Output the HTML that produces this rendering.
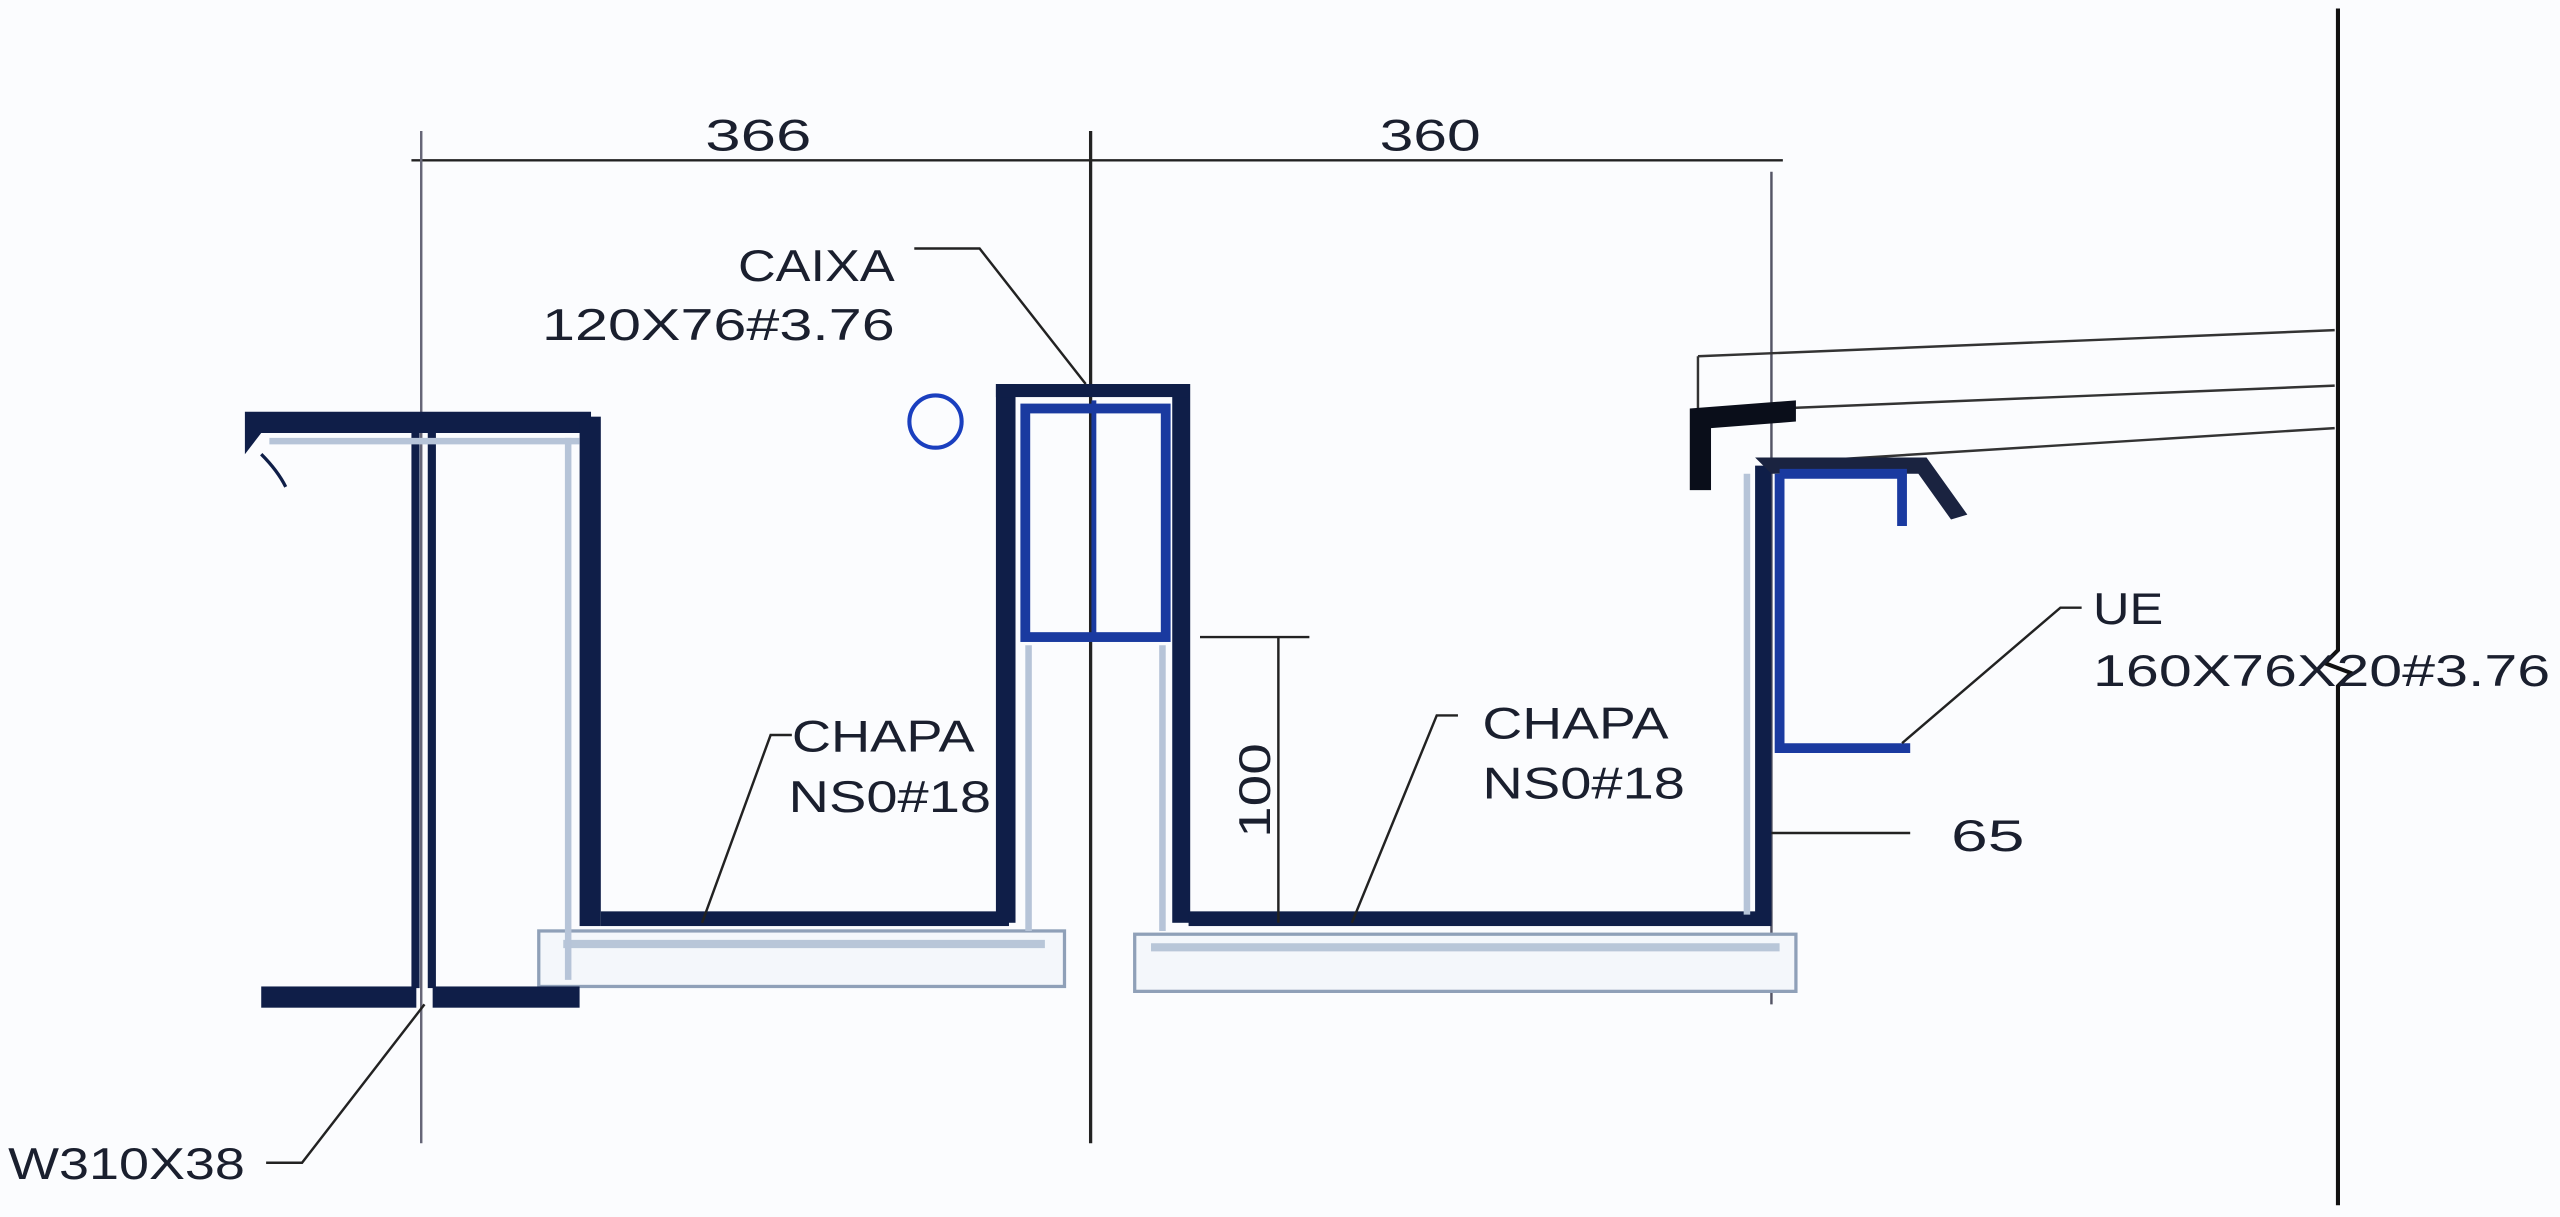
<!DOCTYPE html>
<html><head><meta charset="utf-8"><style>
html,body{margin:0;padding:0;background:#fbfcfe;}
svg{display:block}
text{font-family:"Liberation Sans",sans-serif;fill:#1a1f2e;font-size:27px;}
</style></head><body>
<svg width="2560" height="1217" viewBox="0 0 1568 745" xmlns="http://www.w3.org/2000/svg">
<rect width="1568" height="745" fill="#fbfcfe"/>
<g stroke="#222" stroke-width="1.5" fill="none">
<line x1="252" y1="98" x2="1092" y2="98"/>
<line x1="258" y1="80" x2="258" y2="700" stroke="#667"/>
<line x1="668" y1="80" x2="668" y2="700" stroke="#222" stroke-width="2"/>
<line x1="1085" y1="105" x2="1085" y2="615" stroke="#556"/>
<path d="M1432 5 V398 l-8 8 l16 6 l-8 8 V738" stroke="#111" stroke-width="2.5"/>
</g>
<text x="432" y="92" textLength="65" lengthAdjust="spacingAndGlyphs">366</text>
<text x="845" y="92" textLength="62" lengthAdjust="spacingAndGlyphs">360</text>
<g fill="#f4f7fb" stroke="#8fa0b8" stroke-width="2">
<rect x="330" y="570" width="322" height="34"/>
<rect x="695" y="572" width="405" height="35"/>
</g>
<g stroke="#b8c6d8" stroke-width="5" fill="none">
<line x1="345" y1="578" x2="640" y2="578"/>
<line x1="705" y1="580" x2="1090" y2="580"/>
</g>
<g fill="#0f1e48">
<path d="M150 252 H362 V265 H160 L150 278 Z"/>
<rect x="160" y="604" width="95" height="13"/>
<rect x="265" y="604" width="90" height="13"/>
<rect x="252" y="265" width="5" height="340"/>
<rect x="262" y="265" width="5" height="340"/>
<rect x="355" y="255" width="13" height="312"/>
<rect x="368" y="558" width="250" height="9"/>
<rect x="610" y="235" width="12" height="330"/>
<rect x="718" y="235" width="11" height="330"/>
<rect x="610" y="235" width="118" height="8"/>
<rect x="728" y="558" width="357" height="9"/>
<rect x="1075" y="285" width="10" height="280"/>
</g>
<g fill="none" stroke="#b6c4d8" stroke-width="4">
<line x1="165" y1="270" x2="355" y2="270"/>
<line x1="348" y1="268" x2="348" y2="600"/>
<line x1="630" y1="395" x2="630" y2="570"/>
<line x1="712" y1="395" x2="712" y2="570"/>
<line x1="1070" y1="290" x2="1070" y2="560"/>
</g>
<path d="M160 278 q10 10 15 20" stroke="#0f1e48" stroke-width="2" fill="none"/>
<rect x="628" y="250" width="86" height="140" fill="none" stroke="#1a3aa0" stroke-width="6"/>
<line x1="670" y1="245" x2="670" y2="392" stroke="#1a3aa0" stroke-width="3"/>
<circle cx="573" cy="258" r="16" fill="none" stroke="#1a3fbf" stroke-width="2.5"/>
<g stroke="#333" stroke-width="1.5" fill="none">
<line x1="1040" y1="218" x2="1430" y2="202"/>
<line x1="1040" y1="252" x2="1430" y2="236"/>
<line x1="1095" y1="283" x2="1430" y2="262"/>
<line x1="1040" y1="218" x2="1040" y2="252"/>
</g>
<path d="M1035 250 L1100 245 V258 L1048 262 V300 H1035 Z" fill="#0a0e1a"/>
<path d="M1075 280 H1180 L1205 315 L1195 318 L1175 290 H1085 Z" fill="#1a2340"/>
<path d="M1090 290 H1165 V322" fill="none" stroke="#1a3aa0" stroke-width="6"/>
<path d="M1090 290 V458 H1170" fill="none" stroke="#1a3aa0" stroke-width="6"/>
<g stroke="#222" stroke-width="1.5">
<line x1="735" y1="390" x2="802" y2="390"/>
<line x1="783" y1="390" x2="783" y2="565"/>
</g>
<text transform="translate(778,513) rotate(-90)" textLength="58" lengthAdjust="spacingAndGlyphs">100</text>
<g stroke="#222" stroke-width="1.5" fill="none">
<path d="M560 152 H600 L665 235"/>
<path d="M485 450 H472 L430 565"/>
<path d="M893 438 H880 L828 565"/>
<path d="M1275 372 H1262 L1165 455"/>
<line x1="1085" y1="510" x2="1170" y2="510"/>
<path d="M163 712 H185 L260 615"/>
</g>
<text x="452" y="172" textLength="96" lengthAdjust="spacingAndGlyphs">CAIXA</text>
<text x="332" y="208" textLength="216" lengthAdjust="spacingAndGlyphs">120X76#3.76</text>
<text x="485" y="460" textLength="112" lengthAdjust="spacingAndGlyphs">CHAPA</text>
<text x="483" y="497" textLength="124" lengthAdjust="spacingAndGlyphs">NS0#18</text>
<text x="908" y="452" textLength="114" lengthAdjust="spacingAndGlyphs">CHAPA</text>
<text x="908" y="489" textLength="124" lengthAdjust="spacingAndGlyphs">NS0#18</text>
<text x="1282" y="382" textLength="43" lengthAdjust="spacingAndGlyphs">UE</text>
<text x="1282" y="420" textLength="280" lengthAdjust="spacingAndGlyphs">160X76X20#3.76</text>
<text x="1195" y="521" textLength="45" lengthAdjust="spacingAndGlyphs">65</text>
<text x="5" y="722" textLength="145" lengthAdjust="spacingAndGlyphs">W310X38</text>
</svg>
</body></html>
